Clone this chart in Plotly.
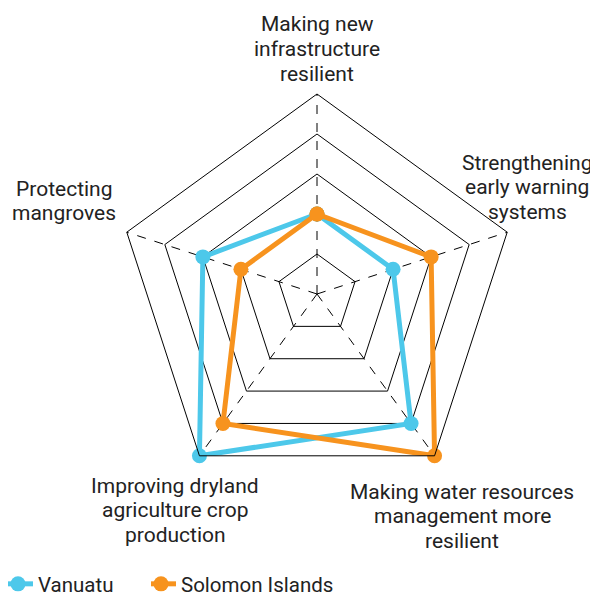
import plotly.graph_objects as go

categories = [
    "Making new<br>infrastructure<br>resilient",
    "Strengthening<br>early warning<br>systems",
    "Making water resources<br>management more<br>resilient",
    "Improving dryland<br>agriculture crop<br>production",
    "Protecting<br>mangroves",
]
vanuatu = [2, 2, 4, 5, 3]
solomon = [2, 3, 5, 4, 2]
series_names = ["Vanuatu", "Solomon Islands"]
title_text = "Priority adaptation plans in Vanuatu and Solomon Islands, by type of policy"

BLUE = "#4DC8EA"
ORANGE = "#F7931E"
TEXT = "#222222"

# layout geometry (pixels)
W, H = 598, 596
ML, MR, MT, MB = 109, 89, 86, 110
PW, PH = W - ML - MR, H - MT - MB
OFF_X, OFF_Y = 7, 7.5  # observed offset of annotations relative to layout paper


def px_x(x):
    return (x - OFF_X - ML) / PW


def px_y(y):
    return (H - MB - (y - OFF_Y)) / PH


# label placement (centre x, centre y of first line) in pixels
label_pos = [(316, 24), (526, 162), (461, 491), (174, 485), (63, 188)]
LINE_STEP = 24.5

fig = go.Figure()
for k, (name, vals, col) in enumerate([(series_names[0], vanuatu, BLUE), (series_names[1], solomon, ORANGE)]):
    fig.add_trace(go.Scatterpolar(
        r=vals + vals[:1],
        theta=categories + categories[:1],
        name=name,
        mode="lines+markers",
        line=dict(color=col, width=5),
        marker=dict(color=col, size=15),
        legend="legend" if k == 0 else "legend2",
    ))

legend_common = dict(orientation="h", xref="container", yref="container",
                     xanchor="left", yanchor="bottom", y=0,
                     font=dict(size=20.5, color=TEXT), indentation=-10,
                     itemwidth=30, bgcolor="rgba(0,0,0,0)")

fig.update_layout(
    width=W, height=H,
    margin=dict(l=ML, r=MR, t=MT, b=MB),
    paper_bgcolor="white",
    font=dict(family="Roboto", size=21, color=TEXT),
    polar=dict(
        gridshape="linear",
        bgcolor="white",
        domain=dict(x=[0, 1], y=[0, 1]),
        radialaxis=dict(range=[0, 5], dtick=1, showticklabels=False, ticks="",
                        showline=False, gridcolor="black", gridwidth=1),
        angularaxis=dict(rotation=90, direction="clockwise", showline=True,
                         linecolor="black", linewidth=1, gridcolor="black",
                         griddash="dash", ticks="", showticklabels=False),
    ),
    legend=dict(legend_common, x=0),
    legend2=dict(legend_common, x=143 / W),
    showlegend=True,
)

for cat, (cx, cy) in zip(categories, label_pos):
    for i, line in enumerate(cat.split("<br>")):
        fig.add_annotation(text=line, xref="paper", yref="paper",
                           x=px_x(cx), y=px_y(cy + i * LINE_STEP),
                           xanchor="center", yanchor="middle", showarrow=False,
                           font=dict(size=21, color=TEXT, family="Roboto"))

fig.add_annotation(text=title_text, xref="paper", yref="paper",
                   x=px_x(38), y=px_y(3), xanchor="left", yanchor="bottom",
                   showarrow=False, font=dict(size=22, color="#F26D5B", family="Roboto"))

fig.write_html("out.html")
